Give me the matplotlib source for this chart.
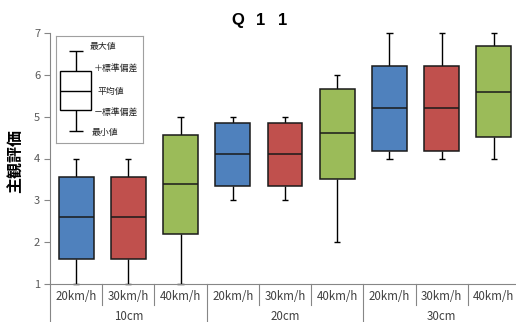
import matplotlib
matplotlib.use("Agg")
import matplotlib.pyplot as plt
from matplotlib.patches import Rectangle

plt.rcParams["font.family"] = ["Noto Sans CJK JP", "DejaVu Sans"]

# data
groups = ["10cm", "20cm", "30cm"]
speeds = ["20km/h", "30km/h", "40km/h"]
means = [2.6, 2.6, 3.4, 4.1, 4.1, 4.6, 5.2, 5.2, 5.6]
plus_sd = [3.56, 3.56, 4.56, 4.84, 4.84, 5.65, 6.2, 6.2, 6.68]
minus_sd = [1.6, 1.6, 2.2, 3.34, 3.34, 3.5, 4.17, 4.17, 4.52]
maxs = [4, 4, 5, 5, 5, 6, 7, 7, 7]
mins = [1, 1, 1, 3, 3, 2, 4, 4, 4]
speed_colors = ["#4F81BD", "#C0504D", "#9BBB59"]
legend_labels = ["最大値", "＋標準偏差", "平均値", "－標準偏差", "最小値"]
title_chars = ["Q", "1", "1"]

W, H = 516, 322
fig = plt.figure(figsize=(W / 100, H / 100), dpi=100)

# axes in pixel units of the reference
ax_l, ax_r, ax_t, ax_b = 50, 520, 33, 284
ax = fig.add_axes([ax_l / W, (H - ax_b) / H, (ax_r - ax_l) / W, (ax_b - ax_t) / H])
ax.set_xlim(0.5, 9.5)
ax.set_ylim(1, 7)

box_w = 0.67
cap_w = 0.06
for i in range(9):
    x = i + 1
    c = speed_colors[i % 3]
    ax.vlines(x, plus_sd[i], maxs[i], color="black", lw=1.0, zorder=1)
    ax.vlines(x, mins[i], minus_sd[i], color="black", lw=1.0, zorder=1)
    ax.hlines([maxs[i], mins[i]], x - cap_w, x + cap_w, color="black", lw=1.0, zorder=1, clip_on=False)
    ax.add_patch(Rectangle((x - box_w / 2, minus_sd[i]), box_w, plus_sd[i] - minus_sd[i],
                           facecolor=c, edgecolor="#1a1a1a", lw=1.1, zorder=2))
    ax.hlines(means[i], x - box_w / 2, x + box_w / 2, color="#1a1a1a", lw=1.1, zorder=3)

for s in ["top", "right"]:
    ax.spines[s].set_visible(False)
ax.spines["left"].set_color("#868686")
ax.spines["bottom"].set_color("#868686")
ax.set_yticks(range(1, 8))
ax.tick_params(axis="y", length=4, color="#868686", labelsize=8, labelcolor="#595959", pad=3)
ax.set_xticks([])

ax_h = ax_b - ax_t
trans = ax.get_xaxis_transform()
# category separators
for i in range(10):
    xs = i + 0.5
    if i % 3 == 0:
        y_end = -(H - ax_b) / ax_h
    else:
        y_end = -(305 - ax_b) / ax_h
    ax.plot([xs, xs], [0, y_end], color="#868686", lw=0.8, transform=trans, clip_on=False)

for i in range(9):
    ax.text(i + 1, -(297 - ax_b) / ax_h, speeds[i % 3], transform=trans,
            ha="center", va="center", fontsize=8.3, color="#404040")
for g, name in enumerate(groups):
    ax.text(g * 3 + 2, -(316 - ax_b) / ax_h, name, transform=trans,
            ha="center", va="center", fontsize=8.3, color="#404040")

# title, spaced wide like full-width characters
for cx, ch in zip([238, 261, 283], title_chars):
    fig.text(cx / W, 1 - 20.5 / H, ch, ha="center", va="center", fontsize=12,
             fontweight="bold", family="Liberation Sans")
fig.text(16 / W, 1 - 161 / H, "主観評価", ha="center", va="center", rotation=90,
         fontsize=11.5, fontweight="bold")

# explanatory inset
lg_l, lg_t, lg_r, lg_b = 56, 36, 143, 143
lax = fig.add_axes([lg_l / W, (H - lg_b) / H, (lg_r - lg_l) / W, (lg_b - lg_t) / H])
lax.set_xlim(lg_l, lg_r)
lax.set_ylim(lg_b, lg_t)
lax.set_xticks([])
lax.set_yticks([])
for s in lax.spines.values():
    s.set_color("#a0a0a0")
    s.set_linewidth(0.8)
lax.vlines(75.5, 51, 131.5, color="black", lw=1.0, zorder=1)
lax.hlines([51, 131.5], 69, 82.5, color="black", lw=1.0)
lax.add_patch(Rectangle((60, 70.7), 31, 39.3, facecolor="white", edgecolor="black", lw=1.0, zorder=2))
lax.hlines(91, 60, 91, color="black", lw=1.0, zorder=3)
lg_pos = [(90, 47), (94, 69), (97, 91), (94, 113), (92, 132)]
for (tx, ty), lab in zip(lg_pos, legend_labels):
    lax.text(tx, ty, lab, ha="left", va="center", fontsize=6.4, color="#202020")

fig.savefig("out.png", dpi=100)
